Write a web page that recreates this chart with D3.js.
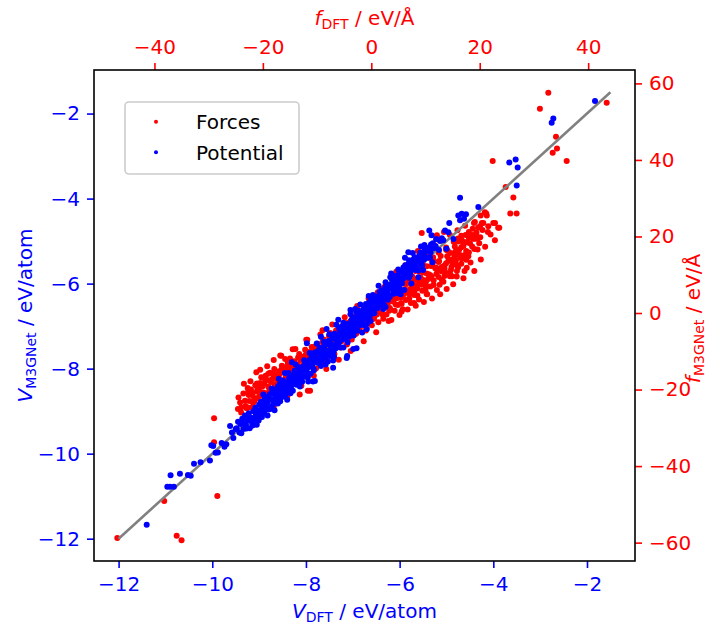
<!DOCTYPE html>
<html>
<head>
<meta charset="utf-8">
<script src="https://cdn.jsdelivr.net/npm/d3@7"></script>
<style>
  body { margin: 0; background: #fff; }
  svg text { font-family: "DejaVu Sans", sans-serif; }
</style>
</head>
<body>
<svg id="chart" width="707" height="628"></svg>
<script>
// Parity data: DFT reference vs. M3GNet prediction
// Potential energies [V_DFT, V_M3GNet] in eV/atom
const potentialPoints = [
  [-11.40,-11.67],
  [-10.96,-10.78],[-10.90,-10.78],[-10.82,-10.78],[-10.89,-10.51],[-10.69,-10.47],
  [-10.52,-10.50],[-10.46,-10.52],[-10.39,-10.24],[-10.25,-10.20],[-10.05,-10.16],
  [-10.02,-9.80],[-9.98,-9.82],[-9.93,-9.98],[-9.88,-9.97],
  [-9.80,-9.75],[-9.74,-9.84],[-9.70,-9.78],[-9.62,-9.35],[-9.58,-9.50],[-9.55,-9.63],[-9.50,-9.42],
  [-9.48,-9.40],[-9.45,-9.25],[-9.42,-9.50],[-9.40,-9.30],[-9.36,-9.18],[-9.33,-9.42],[-9.30,-9.10],
  [-9.28,-9.32],[-9.25,-9.22],[-9.22,-9.05],[-9.20,-9.40],[-9.18,-9.15],[-9.15,-9.28],[-9.12,-9.00],
  [-9.10,-9.20],[-9.08,-8.92],[-9.05,-9.32],[-9.02,-9.08],[-9.00,-8.85],[-8.98,-9.15],[-8.95,-8.98],
  [-8.92,-8.80],[-8.90,-9.05],[-8.88,-8.70],[-8.85,-8.92],
  [-8.97,-8.85],[-8.94,-9.14],[-8.91,-8.61],[-8.88,-8.93],[-8.85,-8.67],[-8.82,-9.10],[-8.79,-8.74],
  [-8.76,-8.90],[-8.73,-8.47],[-8.70,-8.72],[-8.67,-8.98],[-8.64,-8.49],[-8.61,-8.71],[-8.58,-8.24],
  [-8.55,-8.77],[-8.52,-8.49],[-8.49,-8.28],[-8.46,-8.62],[-8.43,-8.34],[-8.40,-8.73],[-8.37,-8.10],
  [-8.34,-8.40],[-8.31,-8.17],[-8.28,-8.52],[-8.25,-8.24],[-8.22,-7.90],[-8.19,-8.31],[-8.16,-7.97],
  [-8.13,-8.42],[-8.10,-8.03],[-8.07,-8.16],[-8.04,-7.80],[-8.01,-8.19],[-7.98,-7.87],[-7.95,-8.30],
  [-7.92,-7.63],[-7.89,-7.92],[-7.86,-7.70],[-7.83,-8.04],[-7.80,-7.74],[-7.77,-7.41],[-7.74,-7.87],
  [-7.71,-7.51],[-7.68,-7.94],[-7.65,-7.63],[-7.62,-7.37],[-7.59,-7.67],[-7.56,-7.43],[-7.53,-7.83],
  [-7.50,-7.19],[-7.47,-7.48],[-7.44,-7.27],[-7.41,-7.60],[-7.38,-7.30],[-7.35,-6.97],[-7.32,-7.43],
  [-7.29,-7.07],[-7.26,-7.50],[-7.23,-7.19],[-7.20,-6.92],[-7.17,-7.24],[-7.14,-6.99],[-7.11,-7.38],
  [-7.08,-6.98],[-7.05,-6.72],[-7.02,-7.16],[-6.99,-6.80],[-6.96,-7.00],[-6.93,-6.67],[-6.90,-7.10],
  [-6.87,-6.80],[-6.84,-6.49],[-6.81,-6.90],[-6.78,-6.62],[-6.75,-6.98],[-6.72,-6.48],[-6.69,-6.67],
  [-6.66,-6.29],[-6.63,-6.75],[-6.60,-6.48],[-6.57,-6.27],[-6.54,-6.70],[-6.51,-6.31],[-6.48,-6.43],
  [-6.45,-6.05],[-6.42,-6.50],[-6.39,-6.16],[-6.36,-6.25],[-6.33,-6.51],[-6.30,-5.97],[-6.27,-6.21],
  [-6.24,-6.05],[-6.21,-6.31],[-6.18,-5.76],[-6.15,-6.01],[-6.12,-6.15],[-6.09,-5.82],[-6.06,-5.97],
  [-6.03,-5.67],[-6.00,-6.13],[-5.96,-5.75],[-5.92,-5.88],[-5.88,-5.57],[-5.84,-5.72],[-5.80,-5.86],
  [-5.76,-5.51],[-5.72,-5.28],[-5.68,-5.60],[-5.64,-5.46],[-5.60,-5.69],[-5.56,-5.27],[-5.52,-5.39],
  [-5.47,-5.09],[-5.42,-5.40],[-5.37,-5.15],[-5.32,-4.86],[-5.27,-5.17],[-5.22,-4.95],[-5.16,-5.21],
  [-5.10,-4.93],
  [-8.50,-8.58],[-8.32,-8.20],[-8.15,-8.27],[-7.97,-7.99],[-7.82,-7.76],[-7.66,-7.80],[-7.49,-7.38],
  [-7.33,-7.31],[-7.18,-7.12],[-7.03,-6.95],[-6.89,-6.93],[-6.74,-6.70],[-6.59,-6.55],[-6.44,-6.30],
  [-6.29,-6.35],[-6.13,-5.95],[-6.98,-7.22],[-7.61,-7.55],[-8.08,-8.31],[-8.62,-8.55],[-7.40,-7.72],
  [-6.70,-6.95],[-6.05,-6.22],
  [-7.85,-8.30],[-7.42,-7.98],[-7.12,-7.70],[-6.92,-7.52],[-6.80,-7.15],
  [-7.56,-7.07],[-7.98,-7.40],[-7.31,-6.85],[-8.30,-7.85],
  [-6.99,-7.54],[-7.81,-8.29],[-7.42,-7.81],[-7.13,-7.75],[-6.70,-7.07],
  [-9.38,-9.52],[-9.34,-9.28],[-9.27,-9.41],[-9.21,-9.16],[-9.14,-9.34],[-9.07,-9.10],[-9.01,-9.22],
  [-8.96,-8.78],[-8.89,-9.00],[-8.83,-8.81],[-8.77,-8.60],[-8.71,-8.86],[-8.65,-8.66],[-8.59,-8.45],
  [-8.53,-8.68],[-8.47,-8.44],[-8.41,-8.55],[-8.35,-8.28],[-8.29,-8.38],[-8.23,-8.10],[-8.17,-8.14],
  [-8.11,-8.26],[-8.05,-7.94],[-7.99,-8.08],[-7.93,-7.80],[-7.87,-7.95],[-7.81,-7.62],[-7.75,-7.78],
  [-7.69,-7.66],[-7.63,-7.49],[-7.57,-7.71],[-7.51,-7.40],[-7.45,-7.55],[-7.39,-7.18],[-7.33,-7.36],
  [-7.27,-7.22],[-7.21,-7.05],[-7.15,-7.28],[-7.09,-7.10],[-7.03,-6.86],[-6.97,-7.06],[-6.91,-6.78],
  [-6.85,-6.98],[-6.79,-6.74],[-6.73,-6.58],[-6.67,-6.82],[-6.61,-6.40],[-6.55,-6.60],[-6.49,-6.55],
  [-6.43,-6.20],[-6.37,-6.42],[-6.31,-6.10],[-6.25,-6.38],[-6.19,-6.02],[-6.13,-6.24],[-6.07,-5.88],
  [-6.01,-5.93],[-5.95,-6.00],[-5.89,-5.73],[-5.83,-5.62],[-5.77,-5.80],[-5.71,-5.44],[-5.65,-5.68],
  [-5.59,-5.36],[-5.53,-5.55],[-5.47,-5.30],[-5.41,-5.22],[-5.35,-5.38],[-5.29,-5.05],[-5.23,-5.12],
  [-9.05,-8.98],[-8.93,-8.88],[-8.80,-8.96],[-8.68,-8.57],[-8.56,-8.36],[-8.44,-8.48],[-8.33,-8.58],
  [-8.20,-8.06],[-8.09,-8.12],[-7.96,-8.12],[-7.84,-7.86],[-7.72,-7.60],[-7.60,-7.45],[-7.48,-7.62],
  [-7.37,-7.45],[-7.25,-7.02],[-7.13,-7.20],[-7.00,-7.12],[-6.88,-6.64],[-6.76,-6.82],[-6.64,-6.56],
  [-6.52,-6.42],[-6.40,-6.36],[-6.28,-6.14],[-6.16,-6.09],[-6.04,-6.05],[-5.93,-5.70],[-5.81,-5.54],
  [-5.69,-5.52],[-5.58,-5.50],[-5.46,-5.20],[-5.34,-5.27],[-7.90,-8.12],[-8.60,-8.82],[-7.58,-7.90],
  [-7.20,-7.50],[-6.62,-6.88],[-6.35,-6.60],[-5.98,-6.25],[-6.95,-6.60],[-8.45,-8.10],[-7.68,-7.25],
  [-7.05,-6.62],[-6.20,-5.85],
  [-8.80,-8.70],[-8.76,-8.95],[-8.72,-8.58],[-8.68,-8.80],[-8.64,-8.62],[-8.60,-8.42],[-8.56,-8.68],
  [-8.52,-8.60],[-8.48,-8.35],[-8.44,-8.66],[-8.40,-8.45],[-8.36,-8.22],[-8.32,-8.46],[-8.28,-8.30],
  [-8.24,-8.05],[-8.20,-8.38],[-8.16,-8.18],[-8.12,-7.98],[-8.08,-8.20],[-8.04,-8.02],[-8.00,-7.85],
  [-7.96,-8.20],[-7.92,-7.90],[-7.88,-7.74],[-7.84,-8.00],[-7.80,-7.85],[-7.76,-7.60],[-7.72,-7.86],
  [-7.68,-7.70],[-7.64,-7.52],[-7.60,-7.75],[-7.56,-7.58],[-7.52,-7.35],[-7.48,-7.70],[-7.44,-7.44],
  [-7.40,-7.25],[-7.36,-7.52],[-7.32,-7.20],[-7.28,-7.36],[-7.24,-7.10],[-7.20,-7.30],[-7.16,-7.08],
  [-7.12,-6.95],[-7.08,-7.25],[-7.04,-7.02],[-7.00,-6.85],[-6.96,-7.12],[-6.92,-6.90],[-6.88,-6.72],
  [-6.84,-6.95],[-6.80,-6.70],[-6.76,-6.58],[-6.72,-6.80],[-6.68,-6.55],[-6.64,-6.42],[-6.60,-6.68],
  [-6.56,-6.50],[-6.52,-6.35],[-6.48,-6.58],[-6.44,-6.40],[-6.40,-6.22],[-6.36,-6.46],[-6.32,-6.28],
  [-6.28,-6.02],[-6.24,-6.26],[-6.20,-6.12],[-6.16,-5.92],[-6.12,-6.18],[-6.08,-6.05],[-6.04,-5.80],
  [-6.00,-6.02],[-5.96,-5.88],[-5.92,-5.62],[-5.88,-5.82],[-5.84,-5.60],[-5.80,-5.45],[-5.76,-5.70],
  [-5.72,-5.56],[-5.68,-5.38],[-5.64,-5.62],[-5.60,-5.48],[-5.56,-5.32],[-5.52,-5.58],[-5.48,-5.44],
  [-5.90,-6.15],[-5.60,-5.85],[-5.30,-5.50],[-5.00,-5.18],[-4.85,-4.95],[-5.50,-5.68],[-6.30,-6.55],
  [-5.75,-6.00],
  [-5.815,-5.26],[-5.886,-5.393],[-5.72,-5.456],[-5.544,-5.378],[-5.779,-5.574],[-5.71,-5.65],
  [-5.367,-4.749],[-5.544,-5.126],[-5.33,-5.08],[-5.138,-5.00],[-5.068,-4.98],
  [-4.94,-4.576],[-5.03,-4.749],[-4.96,-4.79],
  [-4.747,-4.395],[-4.675,-4.355],[-4.583,-4.371],[-4.71,-4.51],[-4.626,-4.473],
  [-4.71,-3.98],[-4.32,-4.20],[-3.50,-3.69],
  [-3.659,-3.152],[-3.523,-3.081],[-3.48,-3.27],
  [-2.719,-2.114],[-2.754,-2.217],[-1.829,-1.706]
];

// Forces [f_DFT, f_M3GNet] in eV/Å
const forcePoints = [
  [-46.85,-58.8],[-35.9,-58.2],[-35.0,-59.4],[-38.2,-49.1],[-28.4,-47.8],[-29.0,-33.8],
  [-29.0,-27.5],[-24.6,-25.1],[-22.74,-24.7],
  [-16.8,-11.1],[-15.0,-13.2],[-15.9,-12.0],[-22.7,-20.5],[-21.1,-20.5],[-18.7,-15.6],
  [-16.8,-18.5],[-17.6,-16.4],[-24.0,-24.7],[-22.0,-24.7],[-11.7,-20.3],[-13.2,-21.3],[-11.3,-20.3],
  [-24.5,-22.1],[-24.0,-26.0],[-23.6,-21.0],[-23.2,-24.3],[-22.8,-19.6],[-22.5,-23.0],[-22.0,-20.8],
  [-21.7,-25.4],[-21.4,-18.9],[-21.0,-22.2],[-20.7,-20.0],[-20.3,-16.8],[-20.0,-23.5],[-19.7,-18.5],
  [-19.4,-21.0],[-19.0,-15.9],[-18.8,-19.8],[-18.5,-22.6],[-18.2,-17.2],[-17.9,-14.6],[-17.6,-20.1],
  [-17.3,-18.0],[-17.0,-15.2],[-16.8,-21.5],[-16.5,-13.8],[-16.2,-17.6],[-15.9,-19.4],[-15.6,-14.0],
  [-15.3,-16.5],[-15.0,-11.9],[-14.8,-18.2],[-14.5,-15.0],[-14.2,-12.6],[-13.9,-17.1],[-13.6,-13.5],
  [-13.3,-10.7],[-13.0,-15.8],[-12.8,-12.0],[-12.5,-14.2],[-12.2,-9.6],[-11.9,-16.3],[-11.6,-11.4],
  [-11.3,-13.0],[-11.0,-8.9],[-10.8,-12.6],[-10.5,-10.2],[-10.2,-14.5],[-9.9,-8.0],[-9.6,-11.1],
  [-9.3,-9.4],[-9.0,-12.8],[-8.8,-6.9],[-8.5,-9.9],[-8.2,-11.6],[-7.9,-7.6],[-7.6,-5.2],[-7.3,-9.5],
  [-7.0,-7.0],[-6.8,-10.7],[-6.5,-4.6],[-6.2,-8.3],[-5.9,-6.0],[-5.6,-9.0],[-5.3,-3.4],[-5.0,-6.6],
  [-4.8,-4.0],[-4.5,-8.2],[-4.2,-5.1],[-3.9,-2.2],[-3.6,-6.9],[-3.3,-3.6],[-3.0,-0.9],[-2.8,-5.4],
  [-2.5,-2.7],[-2.2,-4.4],[-1.9,0.4],[-1.6,-3.3],[-1.3,-1.0],[-1.0,-4.6],[-0.8,1.2],[-0.5,-2.0],
  [-0.2,0.3],[0.1,-3.2],[0.4,2.5],[0.7,-0.6],[1.0,1.6],[1.3,-2.4],[1.6,3.8],[1.9,0.2],[2.2,-1.5],
  [2.5,2.9],[2.8,-0.4],[3.1,4.6],[3.4,1.3],[3.7,-1.8],[4.0,3.0],[4.3,0.6],[4.6,5.7],[4.9,2.1],
  [5.2,-0.5],[5.5,4.1],[5.8,1.0],[6.1,6.2],[6.4,3.4],[6.7,0.9],[7.0,5.0],[7.3,2.6],[7.6,7.9],
  [7.9,4.7],[8.2,1.9],[8.5,6.4],[8.8,3.5],[9.1,9.2],[9.4,5.8],[9.7,2.9],[10.0,7.6],[10.3,4.9],
  [10.6,10.1],[10.9,6.9],[11.2,3.8],[11.5,8.5],[11.8,11.7],[12.1,6.0],[12.4,9.4],[12.7,4.9],
  [13.0,12.0],[13.3,8.2],[13.6,10.8],[13.9,6.3],[14.2,13.6],[14.5,9.6],[14.8,12.1],[15.1,7.5],
  [15.4,14.8],[15.8,11.0],[16.2,16.5],[16.6,12.9],[17.0,9.1],[17.4,15.3],[17.8,18.4],[18.3,13.2],
  [-22.3,-17.8],[-21.2,-15.5],[-20.2,-25.0],[-19.2,-13.9],[-18.0,-24.4],[-16.6,-11.2],[-15.5,-21.8],
  [-14.0,-9.4],[-12.9,-19.0],[-11.8,-7.0],[-10.6,-16.4],[-9.4,-5.6],[-8.3,-14.6],[-7.2,-3.0],
  [-6.0,-12.2],[-4.9,-1.1],[-3.8,-9.9],[-2.6,1.8],[-1.4,-7.4],[-0.3,4.0],[0.9,-5.0],[2.0,6.3],
  [3.2,-2.1],[4.4,8.6],[5.6,0.4],[6.8,10.8],[7.9,2.6],[9.0,13.0],[10.2,5.0],[11.4,14.6],[12.6,7.4],
  [13.8,16.5],[14.9,9.6],[16.0,18.7],[17.2,11.0],[18.6,20.4],[19.0,11.0],[19.6,16.6],[20.2,14.0],
  [-21.9,-21.5],[-20.9,-19.1],[-19.9,-20.8],[-18.9,-17.6],[-17.8,-18.7],[-16.9,-16.0],[-15.8,-17.0],
  [-14.9,-14.3],[-13.8,-14.8],[-12.7,-11.5],[-11.7,-12.9],[-10.7,-9.8],[-9.7,-10.5],[-8.7,-8.1],
  [-7.7,-8.9],[-6.7,-5.9],[-5.7,-6.8],[-4.7,-4.5],[-3.7,-3.9],[-2.7,-1.9],[-1.7,-2.6],[-0.7,-0.2],
  [0.3,-1.0],[1.2,0.8],[2.1,1.4],[3.0,2.2],[3.9,4.4],[4.8,3.9],[5.7,5.9],[6.6,5.4],[7.5,6.9],
  [8.4,8.6],[9.3,7.4],[10.2,10.3],[11.1,9.5],[12.0,11.8],[12.9,10.9],[13.8,13.0],[14.7,11.3],
  [15.6,13.8],[16.5,15.1],[17.6,11.8],
  [-23.3,-22.9],[-22.6,-21.4],[-21.8,-23.6],[-21.0,-19.8],[-20.4,-21.6],[-19.6,-17.4],[-19.0,-19.3],
  [-18.3,-20.5],[-17.7,-16.0],[-17.1,-18.2],[-16.4,-15.1],[-15.7,-16.1],[-15.1,-15.8],[-14.4,-13.2],
  [-13.7,-15.9],[-13.1,-12.3],[-12.4,-13.4],[-11.8,-10.5],[-11.2,-11.8],[-10.5,-12.0],[-9.9,-9.7],
  [-9.2,-10.7],[-8.6,-7.5],[-7.9,-9.6],[-7.3,-6.4],[-6.6,-7.7],[-6.0,-4.9],[-5.4,-6.2],[-4.7,-3.2],
  [-4.1,-4.3],[-3.4,-2.5],[-2.8,-3.0],[-2.1,-0.8],[-1.5,-1.3],[-0.8,0.1],[-0.2,-0.9],[0.5,1.0],
  [1.1,2.3],[1.8,1.1],[2.4,3.8],[3.1,2.8],[3.7,5.0],[4.4,3.7],[5.0,6.8],[5.7,4.4],[6.3,7.7],
  [7.0,6.1],[7.6,9.5],[8.3,7.2],[8.9,10.8],[9.6,8.6],[10.2,12.2],[10.9,9.9],[11.5,13.6],[12.2,11.1],
  [12.8,14.9],[13.5,12.4],[14.1,16.3],[14.8,14.0],[15.4,17.4],[16.1,15.2],[16.7,19.0],[17.5,16.2],
  [18.0,21.2],[18.6,17.4],[19.3,20.6],[19.9,18.2],[20.5,21.7],
  [-24.2,-23.4],[-23.0,-24.9],[-21.5,-22.9],[-20.5,-18.3],[-19.3,-22.4],[-18.1,-15.8],[-16.9,-19.8],
  [-15.4,-12.9],[-14.3,-16.7],[-13.2,-14.1],[-12.1,-10.9],[-11.0,-14.0],[-9.8,-11.9],[-8.9,-8.9],
  [-7.8,-6.0],[-6.9,-8.5],[-5.8,-3.9],[-4.6,-6.0],[-3.5,-1.3],[-2.4,-3.6],[-1.2,0.9],[-0.1,-1.9],
  [1.0,-0.4],[2.2,4.4],[3.3,0.6],[4.5,6.0],[5.6,2.4],[6.8,8.3],[7.9,5.6],[9.0,11.3],[10.1,8.3],
  [11.3,12.6],[12.4,13.3],[13.5,9.7],[14.6,15.7],[15.7,12.6],[16.8,14.3],[17.9,14.8],[19.0,16.7],
  [20.1,19.8],[21.0,17.3],[22.0,20.5],
  [-22.2,-20.0],[-21.6,-22.5],[-21.1,-18.4],[-20.6,-21.0],[-20.1,-19.2],[-19.5,-16.4],[-19.0,-20.9],
  [-18.5,-18.0],[-18.0,-16.9],[-17.5,-19.6],[-17.0,-17.4],[-16.5,-14.6],[-16.0,-17.9],[-15.5,-15.2],
  [-15.0,-13.6],[-14.5,-16.9],[-14.0,-14.1],[-13.5,-11.6],[-13.0,-13.9],[-12.5,-11.8],[-12.0,-14.3],
  [-11.5,-10.2],[-11.0,-11.6],[-10.5,-8.8],[-10.0,-11.9],[-9.5,-9.1],[-9.0,-7.6],[-8.5,-10.8],
  [-8.0,-8.3],[-7.5,-6.2],[-7.0,-9.0],[-6.5,-6.7],[-6.0,-4.1],[-5.5,-7.4],[-5.0,-4.8],[-4.5,-2.6],
  [-4.0,-6.1],[-3.5,-3.4],[-3.0,-1.6],[-2.5,-4.8],[-2.0,-1.8],[-1.5,0.2],[-1.0,-2.7],[-0.5,-0.4],
  [0.0,1.7],[0.5,-1.5],[1.0,0.9],[1.5,2.9],[2.0,-0.3],[2.5,1.6],[3.0,4.2],[3.5,0.9],[4.0,3.9],
  [4.5,2.2],[5.0,5.5],[5.5,2.6],[6.0,4.9],[6.5,7.6],[7.0,3.8],[7.5,6.3],[8.0,8.8],[8.5,4.6],
  [9.0,7.9],[9.5,10.6],[10.0,6.0],[10.5,8.9],[11.0,12.3],[11.5,7.3],[12.0,10.2],[12.5,13.6],
  [13.0,8.7],[13.5,11.6],[14.0,14.8],[14.5,10.4],[15.0,13.1],[15.5,16.0],[16.0,11.9],[16.5,14.4],
  [17.0,17.5],[17.5,13.9],[18.0,15.8],
  [3.2,6.4],[4.1,9.0],[5.0,8.2],[5.9,10.6],[6.7,9.4],[7.4,12.3],[8.1,11.0],[8.8,14.2],[9.5,12.8],
  [10.3,15.6],[11.0,14.1],[11.7,17.6],[12.4,15.8],[13.1,18.9],[13.8,17.1],[14.5,20.4],[15.2,18.6],
  [15.9,21.6],[16.6,20.2],[17.3,22.8],[18.0,19.7],[18.7,22.0],[19.4,21.0],[6.3,12.5],[9.9,17.0],
  [13.4,21.2],[8.6,16.2],[12.0,19.3],[4.6,10.8],[2.4,6.8],[1.2,5.4],[-0.5,3.8],
  [-18.0,-12.3],[-20.5,-14.8],[-14.5,-9.5],[-12.0,-7.0],[-23.5,-18.5],[-9.0,-4.5],
  [9.3,20.9],[12.1,20.3],[10.09,6.77],[15.75,9.57],[17.6,18.55],[18.8,19.4],[19.6,19.4],[19.1,23.8],
  [20.4,23.5],[21.2,26.0],[20.05,22.7],[21.5,21.2],[23.4,22.3],[22.5,23.5],[18.94,23.5],[20.66,23.5],
  [21.58,22.66],[22.82,23.5],[23.6,22.3],[19.68,22.3],[20.18,25.5],[20.95,26.3],[21.3,25.5],
  [25.64,26.0],[26.8,26.0],[26.2,30.17],[24.79,32.95],[22.39,39.75],[36.04,39.75],[34.25,43.0],
  [33.46,41.85],[34.07,46.04],[31.1,53.4],[32.65,57.56],[43.42,54.94],
  [16.0,19.5],[16.6,17.2],[17.4,20.4],[16.9,18.6],[18.2,18.2],[19.1,19.4],[16.97,18.1],[22.8,19.0]
];

// Ideal parity line (potential axes), eV/atom
const parityLine = [-12, -1.5];

// Axis ranges and ticks
const potentialDomain = [-12.525, -0.975];
const forceXDomain = [-51.15, 48.64];
const forceYDomain = [-64.8, 63.5];
const potentialTicks = [-12, -10, -8, -6, -4, -2];
const forceXTicks = [-40, -20, 0, 20, 40];
const forceYTicks = [-60, -40, -20, 0, 20, 40, 60];

const RED = "#ff0000", BLUE = "#0000ff", GRAY = "#808080";
const FS = 20;

const svg = d3.select("#chart");
const plot = { left: 94, right: 635, top: 70, bottom: 561 };

const xV = d3.scaleLinear().domain(potentialDomain).range([plot.left, plot.right]);
const yV = d3.scaleLinear().domain(potentialDomain).range([plot.bottom, plot.top]);
const xF = d3.scaleLinear().domain(forceXDomain).range([plot.left, plot.right]);
const yF = d3.scaleLinear().domain(forceYDomain).range([plot.bottom, plot.top]);

const fmt = d => (d < 0 ? "\u2212" + Math.abs(d) : String(d));

// Axes
function styleAxis(g, color) {
  g.select(".domain").remove();
  g.selectAll(".tick line").attr("stroke", color).attr("stroke-width", 1.6);
  g.selectAll(".tick text").attr("fill", color).attr("font-size", FS)
    .attr("font-family", "DejaVu Sans");
}

svg.append("g").attr("transform", `translate(0,${plot.bottom})`)
  .call(d3.axisBottom(xV).tickValues(potentialTicks).tickFormat(fmt).tickSize(7).tickPadding(9))
  .call(g => styleAxis(g, BLUE));
svg.append("g").attr("transform", `translate(${plot.left},0)`)
  .call(d3.axisLeft(yV).tickValues(potentialTicks).tickFormat(fmt).tickSize(7).tickPadding(7))
  .call(g => styleAxis(g, BLUE));
svg.append("g").attr("transform", `translate(0,${plot.top})`)
  .call(d3.axisTop(xF).tickValues(forceXTicks).tickFormat(fmt).tickSize(7).tickPadding(9))
  .call(g => styleAxis(g, RED));
svg.append("g").attr("transform", `translate(${plot.right},0)`)
  .call(d3.axisRight(yF).tickValues(forceYTicks).tickFormat(fmt).tickSize(7).tickPadding(7))
  .call(g => styleAxis(g, RED));

// Clip region for the data
svg.append("defs").append("clipPath").attr("id", "plotclip")
  .append("rect").attr("x", plot.left).attr("y", plot.top)
  .attr("width", plot.right - plot.left).attr("height", plot.bottom - plot.top);

const data = svg.append("g").attr("clip-path", "url(#plotclip)");
const R = 3.0;

// Forces (top/right axes)
data.append("g").selectAll("circle").data(forcePoints).join("circle")
  .attr("cx", d => xF(d[0])).attr("cy", d => yF(d[1])).attr("r", R).attr("fill", RED);

// Parity line
data.append("line")
  .attr("x1", xV(parityLine[0])).attr("y1", yV(parityLine[0]))
  .attr("x2", xV(parityLine[1])).attr("y2", yV(parityLine[1]))
  .attr("stroke", GRAY).attr("stroke-width", 2.6);

// Potential energies (bottom/left axes)
data.append("g").selectAll("circle").data(potentialPoints).join("circle")
  .attr("cx", d => xV(d[0])).attr("cy", d => yV(d[1])).attr("r", R).attr("fill", BLUE);

// Frame
svg.append("rect").attr("x", plot.left).attr("y", plot.top)
  .attr("width", plot.right - plot.left).attr("height", plot.bottom - plot.top)
  .attr("fill", "none").attr("stroke", "#000").attr("stroke-width", 1.6);

// Axis labels with math-style subscripts
function mathLabel(sel, sym, sub, rest) {
  sel.append("tspan").attr("font-style", "italic").text(sym);
  sel.append("tspan").attr("font-size", FS * 0.7).attr("dy", 4).text(sub);
  sel.append("tspan").attr("dy", -4).text(" / " + rest);
}

svg.append("text").attr("x", (plot.left + plot.right) / 2).attr("y", 618)
  .attr("text-anchor", "middle").attr("font-size", FS).attr("fill", BLUE)
  .call(s => mathLabel(s, "V", "DFT", "eV/atom"));

svg.append("text").attr("x", (plot.left + plot.right) / 2).attr("y", 25)
  .attr("text-anchor", "middle").attr("font-size", FS).attr("fill", RED)
  .call(s => mathLabel(s, "f", "DFT", "eV/Å"));

svg.append("text").attr("transform", `translate(32,${(plot.top + plot.bottom) / 2}) rotate(-90)`)
  .attr("text-anchor", "middle").attr("font-size", FS).attr("fill", BLUE)
  .call(s => mathLabel(s, "V", "M3GNet", "eV/atom"));

svg.append("text").attr("transform", `translate(700,${(plot.top + plot.bottom) / 2 + 3}) rotate(-90)`)
  .attr("text-anchor", "middle").attr("font-size", FS).attr("fill", RED)
  .call(s => mathLabel(s, "f", "M3GNet", "eV/Å"));

// Legend
const legendItems = [
  { label: "Forces", color: RED },
  { label: "Potential", color: BLUE }
];
const lg = svg.append("g");
lg.append("rect").attr("x", 125).attr("y", 102).attr("width", 174).attr("height", 72)
  .attr("rx", 4).attr("fill", "#fff").attr("fill-opacity", 0.8)
  .attr("stroke", "#cccccc").attr("stroke-width", 1.6);
legendItems.forEach((it, i) => {
  const cy = 121.7 + i * 30.6;
  lg.append("circle").attr("cx", 156).attr("cy", cy).attr("r", 2).attr("fill", it.color);
  lg.append("text").attr("x", 196).attr("y", cy + 7.3).attr("font-size", FS)
    .attr("fill", "#000").text(it.label);
});
</script>
</body>
</html>
